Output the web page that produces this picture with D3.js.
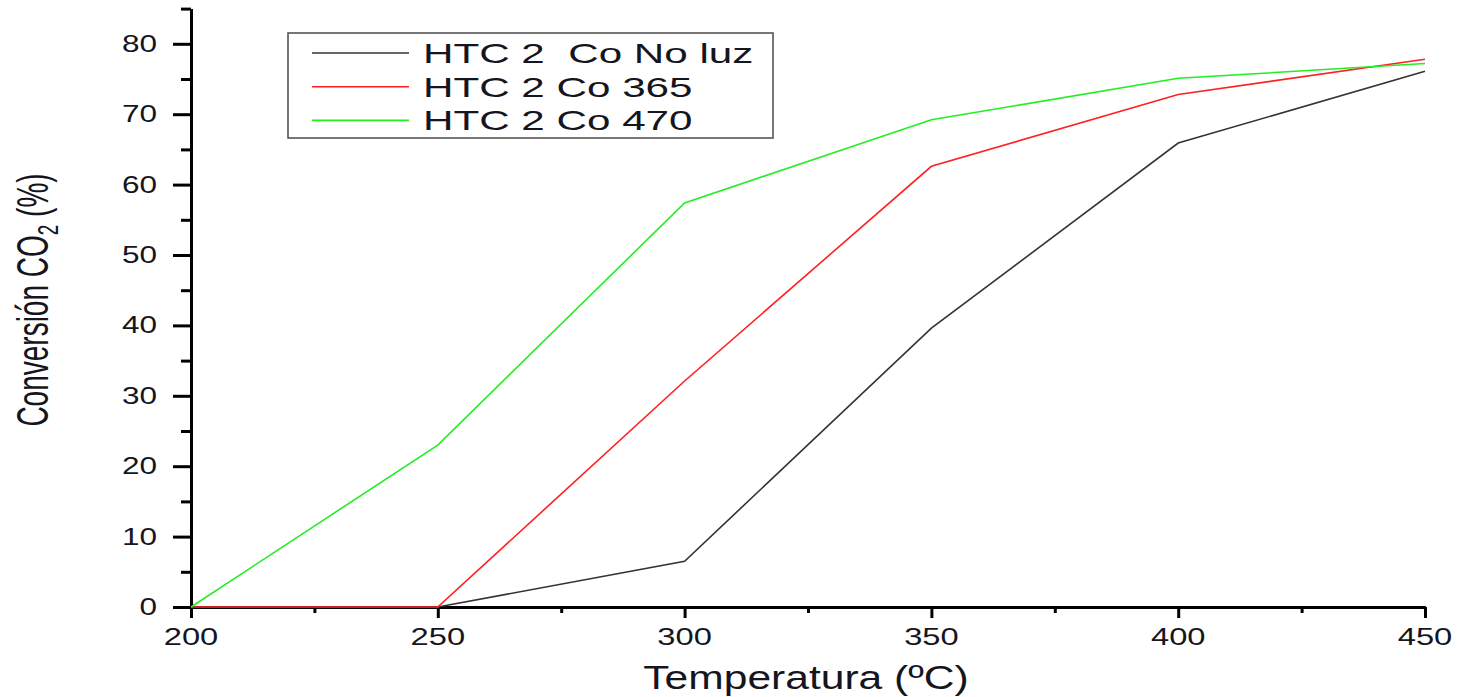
<!DOCTYPE html>
<html>
    <head>
        <meta charset="utf-8" />
        <style>
            body{ margin: 0; background: #fff; }
            svg{ display: block; }
            text{ font-family: "Liberation Sans", Arial, sans-serif; fill: #151520; }
            .leg-text{ white-space: pre; }
        </style>
    </head>
    <body>
        <svg id="chart" width="1460" height="697"></svg>
        <script src="https://cdn.jsdelivr.net/npm/d3@7"></script>
        <script>
            // temperatures (ºC)
            var temps = [200, 250, 300, 350, 400, 450];
            // CO2 conversion (%)
            var noLuz = [0, 0, 6.5, 39.6, 65.9, 76.1];
            var co365 = [0, 0, 32.1, 62.6, 72.8, 77.8];
            var co470 = [0, 23.0, 57.4, 69.2, 75.1, 77.2];

            var seriesNames = ['HTC 2  Co No luz', 'HTC 2 Co 365', 'HTC 2 Co 470'];
            var seriesColors = ['#333333', '#ff2020', '#22ee22'];

            var xMajor = [200, 250, 300, 350, 400, 450];
            var xMinor = [225, 275, 325, 375, 425];
            var yMajor = [0, 10, 20, 30, 40, 50, 60, 70, 80];
            var yMinor = [5, 15, 25, 35, 45, 55, 65, 75, 85];

            var svg = d3.select('#chart');

            var x = d3.scaleLinear().domain([200, 450]).range([191, 1425]);
            var y = d3.scaleLinear().domain([0, 85]).range([607, 8.6]);

            var series = [noLuz, co365, co470];

            // axes
            var yAxisMajor = d3.axisLeft(y).tickValues(yMajor).tickSize(18).tickFormat('').tickSizeOuter(0);
            var yAxisMinor = d3.axisLeft(y).tickValues(yMinor).tickSize(10).tickFormat('').tickSizeOuter(0);
            var xAxisMajor = d3.axisBottom(x).tickValues(xMajor).tickSize(11).tickFormat('').tickSizeOuter(0);
            var xAxisMinor = d3.axisBottom(x).tickValues(xMinor).tickSize(6).tickFormat('').tickSizeOuter(0);

            [yAxisMajor, yAxisMinor].forEach(function(ax){
                svg.append('g')
                    .attr('class', 'axis')
                    .attr('transform', 'translate(' + x(200) + ',0)')
                    .call(ax);
            });
            [xAxisMajor, xAxisMinor].forEach(function(ax){
                svg.append('g')
                    .attr('class', 'axis')
                    .attr('transform', 'translate(0,' + y(0) + ')')
                    .call(ax);
            });
            svg.selectAll('.axis path, .axis line')
                .attr('stroke', '#000')
                .attr('stroke-width', 3);

            // data lines, on top of the axes (red shows along the x axis)
            var line = d3.line()
                .x(function(d, i){ return x(temps[i]); })
                .y(function(d){ return y(d); });

            svg.selectAll('.series')
                .data(series)
                .enter()
                .append('path')
                .attr('class', 'series')
                .attr('d', line)
                .attr('fill', 'none')
                .attr('stroke', function(d, i){ return seriesColors[i]; })
                .attr('stroke-width', 1.6);

            // tick labels
            svg.selectAll('.ylab')
                .data(yMajor)
                .enter()
                .append('text')
                .attr('class', 'ylab')
                .attr('text-anchor', 'end')
                .attr('font-size', 23)
                .attr('transform', function(d){ return 'translate(157,' + (y(d) + 8) + ') scale(1.37,1)'; })
                .text(function(d){ return d; });

            svg.selectAll('.xlab')
                .data(xMajor)
                .enter()
                .append('text')
                .attr('class', 'xlab')
                .attr('text-anchor', 'middle')
                .attr('font-size', 23.5)
                .attr('transform', function(d){ return 'translate(' + x(d) + ',645) scale(1.39,1)'; })
                .text(function(d){ return d; });

            // axis titles
            svg.append('text')
                .attr('text-anchor', 'middle')
                .attr('font-size', 33)
                .attr('transform', 'translate(806,689) scale(1.29,1)')
                .text('Temperatura (ºC)');

            var yTitle = svg.append('text')
                .attr('text-anchor', 'middle')
                .attr('font-size', 28)
                .attr('transform', 'translate(48,300) rotate(-90) scale(1,1.6)');
            yTitle.append('tspan').text('Conversión CO');
            yTitle.append('tspan').attr('font-size', 19).attr('dy', 6).text('2');
            yTitle.append('tspan').attr('dy', -6).text(' (%)');

            // legend
            var legend = svg.append('g');
            legend.append('rect')
                .attr('x', 288).attr('y', 33)
                .attr('width', 485).attr('height', 105)
                .attr('fill', 'none')
                .attr('stroke', '#555')
                .attr('stroke-width', 1.6);

            var rows = legend.selectAll('.leg')
                .data(seriesNames)
                .enter()
                .append('g')
                .attr('class', 'leg')
                .attr('transform', function(d, i){ return 'translate(0,' + (53 + i * 33.7) + ')'; });
            rows.append('line')
                .attr('x1', 312).attr('x2', 409)
                .attr('stroke', function(d, i){ return seriesColors[i]; })
                .attr('stroke-width', 1.6);
            rows.append('text')
                .attr('class', 'leg-text')
                .attr('font-size', 28.5)
                .attr('transform', 'translate(423,10) scale(1.48,1)')
                .text(function(d){ return d; });
        </script>
    </body>
</html>
